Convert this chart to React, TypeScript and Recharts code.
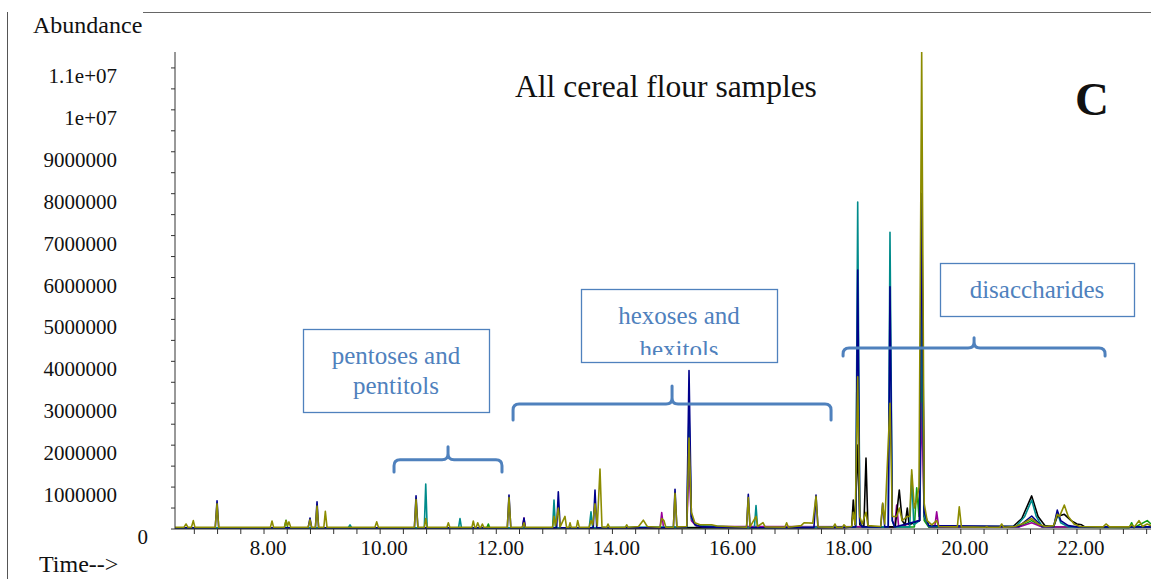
import React from "react";
import { LineChart, Line, XAxis, YAxis } from "recharts";

// ---- data (time in min, abundance in millions) ----
const olive: [number, number][] = [
  [6.467, 0.04], [6.62, 0.04], [6.657, 0.12], [6.69, 0.04], [6.75, 0.04], [6.782, 0.2], [6.81, 0.04],
  [7.16, 0.04], [7.191, 0.6], [7.22, 0.04],
  [8.11, 0.04], [8.138, 0.19], [8.165, 0.04],
  [8.35, 0.04], [8.379, 0.2], [8.405, 0.08], [8.43, 0.17], [8.46, 0.04],
  [8.76, 0.04], [8.792, 0.22], [8.82, 0.04], [8.885, 0.04], [8.913, 0.55], [8.94, 0.04],
  [9.03, 0.04], [9.056, 0.42], [9.085, 0.04],
  [9.91, 0.04], [9.941, 0.17], [9.97, 0.04],
  [10.59, 0.04], [10.618, 0.7], [10.65, 0.04],
  [10.76, 0.04], [10.785, 0.25], [10.81, 0.04],
  [11.15, 0.04], [11.174, 0.15], [11.2, 0.04],
  [11.58, 0.04], [11.604, 0.19], [11.63, 0.04], [11.655, 0.04], [11.68, 0.15], [11.71, 0.04],
  [11.735, 0.04], [11.76, 0.12], [11.785, 0.04],
  [12.19, 0.04], [12.219, 0.75], [12.25, 0.04],
  [12.45, 0.04], [12.477, 0.15], [12.5, 0.04],
  [12.97, 0.04], [12.994, 0.3], [13.02, 0.08], [13.068, 0.5], [13.1, 0.05], [13.183, 0.3], [13.21, 0.04],
  [13.25, 0.04], [13.27, 0.15], [13.29, 0.04], [13.38, 0.04], [13.402, 0.2], [13.43, 0.04],
  [13.6, 0.04], [13.631, 0.2], [13.66, 0.1], [13.7, 0.6], [13.74, 0.08], [13.786, 1.43], [13.82, 0.05],
  [13.9, 0.04], [13.924, 0.12], [13.95, 0.04],
  [14.22, 0.04], [14.246, 0.1], [14.27, 0.04],
  [14.45, 0.06], [14.532, 0.21], [14.6, 0.06],
  [14.82, 0.04], [14.849, 0.25], [14.888, 0.2], [14.92, 0.04],
  [15.05, 0.04], [15.078, 0.85], [15.11, 0.05],
  [15.28, 0.06], [15.319, 2.17], [15.36, 0.4], [15.42, 0.15], [15.508, 0.1], [15.6, 0.1], [15.71, 0.1], [15.8, 0.07],
  [16.31, 0.04], [16.34, 0.75], [16.37, 0.05], [16.473, 0.3], [16.5, 0.06], [16.593, 0.15], [16.63, 0.05],
  [16.97, 0.04], [17.0, 0.15], [17.03, 0.04],
  [17.25, 0.08], [17.3, 0.15], [17.45, 0.14], [17.506, 0.78], [17.54, 0.05],
  [17.8, 0.04], [17.833, 0.12], [17.86, 0.04], [17.96, 0.04], [17.988, 0.1], [18.02, 0.05],
  [18.12, 0.06], [18.148, 0.4], [18.18, 0.1], [18.224, 3.63], [18.26, 0.3], [18.3, 0.12], [18.367, 0.4], [18.4, 0.08],
  [18.62, 0.06], [18.654, 0.62], [18.69, 0.12], [18.78, 3.0], [18.82, 0.3], [18.895, 0.3], [18.94, 0.5],
  [18.99, 0.2], [19.078, 0.3], [19.12, 0.3], [19.154, 1.41], [19.2, 0.5], [19.24, 0.7], [19.28, 1.0],
  [19.326, 11.4], [19.37, 0.6], [19.42, 0.2], [19.5, 0.1], [19.584, 0.2], [19.62, 0.06],
  [19.94, 0.05], [19.973, 0.53], [20.01, 0.05],
  [20.42, 0.04], [20.445, 0.06], [20.47, 0.04],
  [20.67, 0.04], [20.703, 0.12], [20.74, 0.04],
  [20.93, 0.06], [21.05, 0.12], [21.22, 0.25], [21.33, 0.12], [21.45, 0.06],
  [21.6, 0.08], [21.661, 0.35], [21.7, 0.3], [21.782, 0.57], [21.85, 0.3], [21.95, 0.12], [22.05, 0.06],
  [22.45, 0.05], [22.5, 0.12], [22.56, 0.05],
  [22.9, 0.05], [22.94, 0.1], [22.99, 0.05], [23.068, 0.2], [23.13, 0.06], [23.21, 0.12], [23.275, 0.08],
];

const navy: [number, number][] = [
  [6.467, 0.03], [7.16, 0.03], [7.191, 0.67], [7.22, 0.03], [8.76, 0.03], [8.792, 0.26], [8.82, 0.03],
  [8.885, 0.03], [8.913, 0.65], [8.94, 0.03], [10.59, 0.03], [10.618, 0.79], [10.65, 0.03],
  [12.19, 0.03], [12.219, 0.81], [12.25, 0.03], [12.45, 0.03], [12.477, 0.26], [12.5, 0.03],
  [13.04, 0.03], [13.068, 0.89], [13.1, 0.03], [13.67, 0.03], [13.7, 0.93], [13.73, 0.03],
  [15.05, 0.03], [15.078, 0.95], [15.11, 0.03], [15.28, 0.05], [15.319, 3.78], [15.36, 0.3],
  [15.42, 0.1], [15.55, 0.05], [16.31, 0.03], [16.34, 0.83], [16.37, 0.03], [17.47, 0.03],
  [17.506, 0.81], [17.54, 0.03], [18.19, 0.05], [18.224, 6.18], [18.26, 0.2], [18.3, 0.05],
  [18.62, 0.05], [18.654, 0.6], [18.69, 0.05], [18.75, 0.05], [18.78, 5.78], [18.82, 0.2],
  [18.86, 0.05], [19.29, 0.2], [19.326, 8.0], [19.37, 0.4], [19.45, 0.08], [21.0, 0.06],
  [21.22, 0.31], [21.4, 0.06], [21.6, 0.06], [21.661, 0.45], [21.72, 0.2], [21.85, 0.08],
  [22.0, 0.05], [23.275, 0.05],
];

const teal: [number, number][] = [
  [6.467, 0.03], [9.45, 0.03], [9.481, 0.1], [9.51, 0.03], [10.76, 0.03], [10.785, 1.07], [10.81, 0.03],
  [11.35, 0.03], [11.375, 0.25], [11.4, 0.03], [12.97, 0.03], [12.994, 0.69], [13.02, 0.03],
  [13.6, 0.03], [13.631, 0.41], [13.66, 0.03], [15.28, 0.05], [15.319, 2.8], [15.36, 0.25],
  [15.45, 0.08], [16.445, 0.03], [16.473, 0.56], [16.5, 0.03], [18.19, 0.05], [18.224, 7.8],
  [18.26, 0.2], [18.3, 0.05], [18.75, 0.05], [18.78, 7.08], [18.82, 0.2], [18.86, 0.05],
  [19.12, 0.05], [19.154, 1.29], [19.19, 0.1], [19.29, 0.2], [19.326, 5.5], [19.37, 0.3],
  [19.45, 0.06], [20.95, 0.06], [21.1, 0.3], [21.22, 0.69], [21.3, 0.3], [21.4, 0.06],
  [21.6, 0.06], [21.661, 0.4], [21.72, 0.15], [21.85, 0.05], [23.275, 0.05],
];

const black: [number, number][] = [
  [6.467, 0.03], [18.0, 0.03], [18.12, 0.05], [18.148, 0.69], [18.18, 0.1], [18.224, 2.0], [18.26, 0.1],
  [18.33, 0.05], [18.367, 1.69], [18.4, 0.05], [18.87, 0.05], [18.94, 0.93], [18.99, 0.2],
  [19.04, 0.1], [19.078, 0.5], [19.11, 0.1], [19.29, 0.2], [19.326, 7.1], [19.37, 0.3],
  [19.45, 0.06], [20.9, 0.06], [21.05, 0.25], [21.22, 0.79], [21.33, 0.3], [21.45, 0.08],
  [21.6, 0.06], [21.661, 0.3], [21.782, 0.35], [21.9, 0.2], [22.0, 0.12], [22.08, 0.1],
  [22.15, 0.04], [23.275, 0.04],
];

const purple: [number, number][] = [
  [6.467, 0.03], [12.45, 0.03], [12.477, 0.26], [12.5, 0.03], [14.82, 0.03], [14.849, 0.39], [14.88, 0.03],
  [15.28, 0.05], [15.319, 1.5], [15.36, 0.2], [15.45, 0.06], [18.86, 0.05], [18.895, 0.57],
  [18.93, 0.05], [19.29, 0.2], [19.326, 3.0], [19.37, 0.3], [19.45, 0.06], [19.55, 0.04],
  [19.584, 0.41], [19.62, 0.04], [21.0, 0.05], [21.22, 0.15], [21.4, 0.05], [23.275, 0.04],
];

const green: [number, number][] = [
  [6.467, 0.02], [8.35, 0.02], [8.379, 0.21], [8.41, 0.02], [11.835, 0.02], [11.863, 0.12], [11.89, 0.02],
  [19.2, 0.05], [19.24, 0.98], [19.28, 0.3], [19.326, 4.0], [19.37, 0.2], [19.45, 0.04],
  [21.0, 0.05], [21.22, 0.2], [21.4, 0.05], [22.9, 0.03], [22.942, 0.15], [22.98, 0.03],
  [23.21, 0.2], [23.275, 0.12],
];

const xLabelTicks = [8, 10, 12, 14, 16, 18, 20, 22];
const yLabelTicks = [0, 1, 2, 3, 4, 5, 6, 7, 8, 9, 10, 11];
const yTickLabels = ["0", "1000000", "2000000", "3000000", "4000000", "5000000", "6000000",
  "7000000", "8000000", "9000000", "1e+07", "1.1e+07"];

const seriesList: { name: string; color: string; pts: [number, number][] }[] = [
  { name: "green", color: "#129a12", pts: green },
  { name: "purple", color: "#990099", pts: purple },
  { name: "black", color: "#000000", pts: black },
  { name: "teal", color: "#008b8b", pts: teal },
  { name: "navy", color: "#00008b", pts: navy },
  { name: "olive", color: "#8c8c00", pts: olive },
];

// ---- layout ----
const W = 1151;
const H = 579;
const PLOT_L = 175;
const PLOT_T = 52;
const PLOT_B = 529;
const X_MIN = 6.467;
const X_MAX = 23.275;
const Y_MAX = 11.38;

const px = (t: number) => PLOT_L + ((t - X_MIN) / (X_MAX - X_MIN)) * (W - PLOT_L);
const py = (v: number) => PLOT_B - (v / Y_MAX) * (PLOT_B - PLOT_T);

const xMinorTicks: number[] = [];
for (let k = 0; k <= 41; k++) xMinorTicks.push(Math.round((6.8 + 0.4 * k) * 10) / 10);
const yMinorTicks: number[] = [];
for (let k = 0; k <= 22; k++) yMinorTicks.push(k * 0.5);

const SERIF = "'Liberation Serif', 'Times New Roman', serif";
const BLUE = "#4f81bd";

const XTick = (props: any) => {
  const { x, payload } = props;
  const v = payload.value;
  if (!xLabelTicks.some((m) => Math.abs(m - v) < 1e-6)) return null;
  return (
    <text x={x + 4} y={PLOT_B + 19} textAnchor="middle" dominantBaseline="central"
      fontFamily={SERIF} fontSize={21} fill="#111">
      {v.toFixed(2)}
    </text>
  );
};

const YTick = (props: any) => {
  const { y, payload } = props;
  const v = payload.value;
  const idx = yLabelTicks.findIndex((m) => Math.abs(m - v) < 1e-6);
  if (idx < 0) return null;
  return (
    <text x={v === 0 ? 148 : 117} y={y + 8} textAnchor="end" dominantBaseline="central"
      fontFamily={SERIF} fontSize={21} fill="#111">
      {yTickLabels[idx]}
    </text>
  );
};

type Brace = { t1: number; t2: number; tc: number; vh: number; vb: number; vt: number };
const braces: Brace[] = [
  { t1: 10.239, t2: 12.098, tc: 11.169, vh: 1.65, vb: 1.36, vt: 1.96 },
  { t1: 12.289, t2: 17.765, tc: 15.027, vh: 2.98, vb: 2.6, vt: 3.41 },
  { t1: 17.972, t2: 22.484, tc: 20.228, vh: 4.32, vb: 4.13, vt: 4.56 },
];

const bracePath = (b: Brace) => {
  const x1 = px(b.t1), x2 = px(b.t2), xc = px(b.tc);
  const yh = py(b.vh), yb = py(b.vb), yt = py(b.vt);
  const r = 6;
  return [
    `M ${x1} ${yb}`,
    `L ${x1} ${yh + r}`,
    `Q ${x1} ${yh} ${x1 + r} ${yh}`,
    `L ${xc - r} ${yh}`,
    `Q ${xc} ${yh} ${xc} ${yh - r}`,
    `L ${xc} ${yt}`,
    `M ${xc} ${yh - r}`,
    `Q ${xc} ${yh} ${xc + r} ${yh}`,
    `L ${x2 - r} ${yh}`,
    `Q ${x2} ${yh} ${x2} ${yh + r}`,
    `L ${x2} ${yb}`,
  ].join(" ");
};

export default function App() {
  return (
    <div style={{ position: "absolute", left: 0, top: 0, width: W, height: H, background: "#fff" }}>
      <div style={{ position: "absolute", left: 0, top: 0 }}>
        <LineChart width={W} height={H} margin={{ top: PLOT_T, right: 0, left: 0, bottom: 0 }}>
          <XAxis
            type="number"
            dataKey="t"
            domain={[X_MIN, X_MAX]}
            allowDataOverflow
            ticks={xMinorTicks}
            interval={0}
            height={H - PLOT_B}
            tick={<XTick />}
            tickSize={5}
            stroke="#333"
            tickLine={{ stroke: "#333" }}
            axisLine={{ stroke: "#333" }}
          />
          <YAxis
            type="number"
            domain={[0, Y_MAX]}
            allowDataOverflow
            ticks={yMinorTicks}
            interval={0}
            width={PLOT_L}
            tick={<YTick />}
            tickSize={4}
            stroke="#333"
            tickLine={{ stroke: "#333" }}
            axisLine={{ stroke: "#333" }}
          />
          {seriesList.map((s) => (
            <Line
              key={s.name}
              data={s.pts.map(([t, v]) => ({ t, v }))}
              dataKey="v"
              type="linear"
              stroke={s.color}
              strokeWidth={1.6}
              strokeLinejoin="round"
              dot={false}
              activeDot={false}
              isAnimationActive={false}
            />
          ))}
        </LineChart>
      </div>
      <svg width={W} height={H} style={{ position: "absolute", left: 0, top: 0, pointerEvents: "none" }}>
        <defs>
          <clipPath id="hexClip">
            <rect x={581} y={289} width={196} height={66} />
          </clipPath>
        </defs>
        {/* frame */}
        <line x1={7.5} y1={12} x2={7.5} y2={579} stroke="#555" strokeWidth={1} />
        <line x1={143} y1={12.5} x2={W} y2={12.5} stroke="#666" strokeWidth={1} />
        <text x={33} y={33} fontFamily={SERIF} fontSize={24} fill="#111">Abundance</text>
        <text x={39} y={572} fontFamily={SERIF} fontSize={24} fill="#111">Time--&gt;</text>
        <text x={666} y={97} textAnchor="middle" fontFamily={SERIF} fontSize={31.5} fill="#111">
          All cereal flour samples
        </text>
        <text x={1075} y={115} fontFamily={SERIF} fontSize={47} fontWeight="bold" fill="#111">C</text>

        {braces.map((b, i) => (
          <path key={i} d={bracePath(b)} fill="none" stroke={BLUE} strokeWidth={3} strokeLinecap="round" />
        ))}

        <rect x={303.5} y={329.5} width={186} height={83} fill="#fff" stroke={BLUE} strokeWidth={1.3} />
        <text x={396} y={364} textAnchor="middle" fontFamily={SERIF} fontSize={25} fill={BLUE}>pentoses and</text>
        <text x={396} y={394} textAnchor="middle" fontFamily={SERIF} fontSize={25} fill={BLUE}>pentitols</text>

        <rect x={581.5} y={289.5} width={196} height={73} fill="#fff" stroke={BLUE} strokeWidth={1.3} />
        <g clipPath="url(#hexClip)">
          <text x={679} y={324} textAnchor="middle" fontFamily={SERIF} fontSize={25} fill={BLUE}>hexoses and</text>
          <text x={679} y={358} textAnchor="middle" fontFamily={SERIF} fontSize={25} fill={BLUE}>hexitols</text>
        </g>

        <rect x={940.5} y={263.5} width={194} height={53} fill="#fff" stroke={BLUE} strokeWidth={1.3} />
        <text x={1037} y={298} textAnchor="middle" fontFamily={SERIF} fontSize={25} fill={BLUE}>disaccharides</text>
      </svg>
    </div>
  );
}
